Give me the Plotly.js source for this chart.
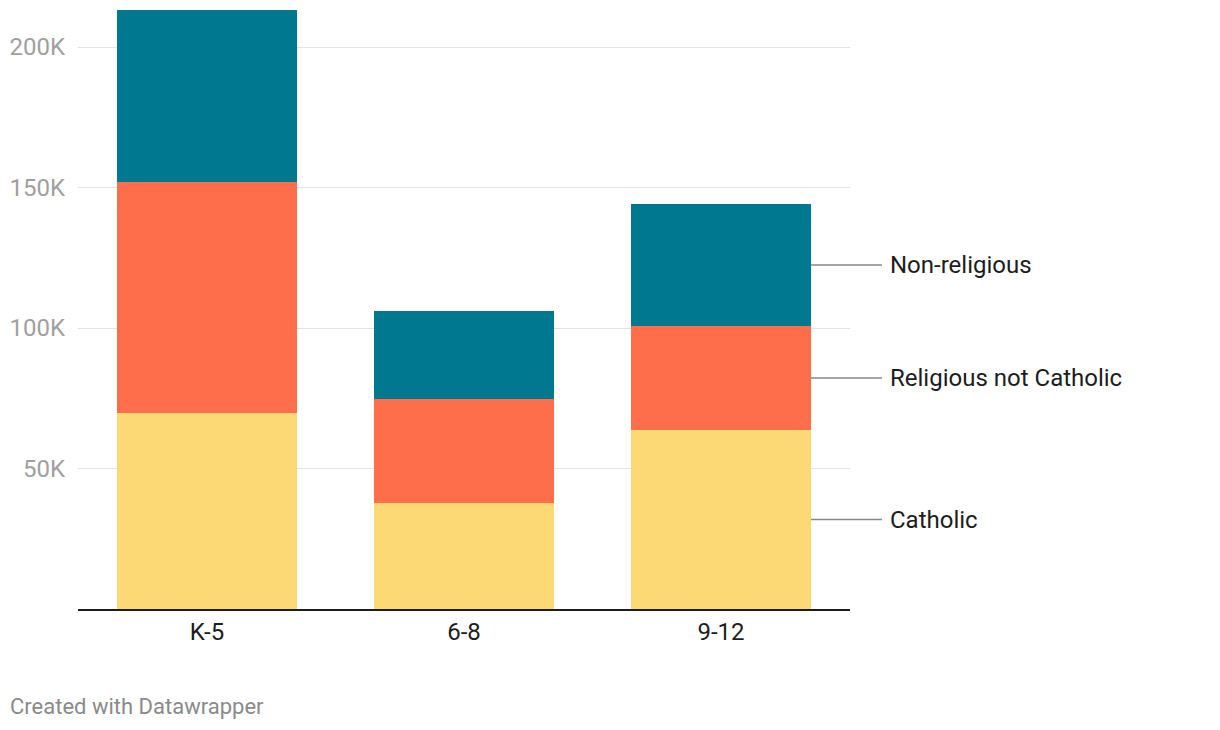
<!DOCTYPE html>
<html>
<head>
<meta charset="utf-8">
<script src="https://cdn.plot.ly/plotly-3.0.1.min.js"></script>
<style>html,body{margin:0;padding:0;background:#fff;}#chart{width:1220px;height:730px;}</style>
</head>
<body>
<div id="chart"></div>
<script>
const categories = ["K-5", "6-8", "9-12"];
const seriesNames = ["Catholic", "Religious not Catholic", "Non-religious"];
const catholic = [69800, 37700, 63700];
const religiousNotCatholic = [82200, 37000, 37000];
const nonReligious = [61200, 31300, 43400];
const tickValues = [50000, 100000, 150000, 200000];
const tickLabels = ["50K", "100K", "150K", "200K"];
const colors = ["#fdd975", "#ff6e4a", "#00788f"];

const seriesValues = [catholic, religiousNotCatholic, nonReligious];
const traces = seriesValues.map((vals, i) => ({
  type: "bar",
  x: categories,
  y: vals,
  name: seriesNames[i],
  marker: {color: colors[i], line: {width: 0}},
  hoverinfo: "skip"
}));

// label lines at middle of each segment of the last bar
const last = categories.length - 1;
let cum = 0;
const annotations = seriesValues.map((vals, i) => {
  const mid = cum + vals[last] / 2;
  cum += vals[last];
  return {
    x: last + 0.35, xref: "x", y: mid, yref: "y",
    text: seriesNames[i], showarrow: true, arrowhead: 0, arrowwidth: 1.5,
    arrowcolor: "#888888", ax: 77, ay: 0, xanchor: "left", yanchor: "middle",
    standoff: 0, startstandoff: 6,
    font: {family: "Roboto, sans-serif", size: 24, color: "#1d1d1d"}
  };
});
annotations.push({
  xref: "paper", yref: "paper", x: -70/772, y: -97/599, xanchor: "left", yanchor: "middle",
  text: "Created with Datawrapper", showarrow: false,
  font: {family: "Roboto, sans-serif", size: 22, color: "#8a8a8a"}
});

const layout = {
  width: 1220, height: 730,
  margin: {l: 78, r: 370, t: 10, b: 121},
  paper_bgcolor: "#ffffff", plot_bgcolor: "#ffffff",
  barmode: "stack", bargap: 0.3,
  showlegend: false,
  xaxis: {
    type: "category", range: [-0.502, 2.502], showgrid: false, zeroline: false,
    showline: true, linecolor: "#1d1d1d", linewidth: 2, ticks: "",
    tickfont: {family: "Roboto, sans-serif", size: 24, color: "#1d1d1d"},
    fixedrange: true
  },
  yaxis: {
    range: [0, 213200], tickvals: tickValues, ticktext: tickLabels,
    showgrid: true, gridcolor: "#e3e3e3", gridwidth: 1, zeroline: false,
    showline: false, ticks: "", ticklabelstandoff: 12,
    tickfont: {family: "Roboto, sans-serif", size: 24, color: "#a0a0a0"},
    fixedrange: true
  },
  annotations: annotations,
  font: {family: "Roboto, sans-serif"}
};

Plotly.newPlot("chart", traces, layout, {displayModeBar: false, staticPlot: true});
</script>
</body>
</html>
